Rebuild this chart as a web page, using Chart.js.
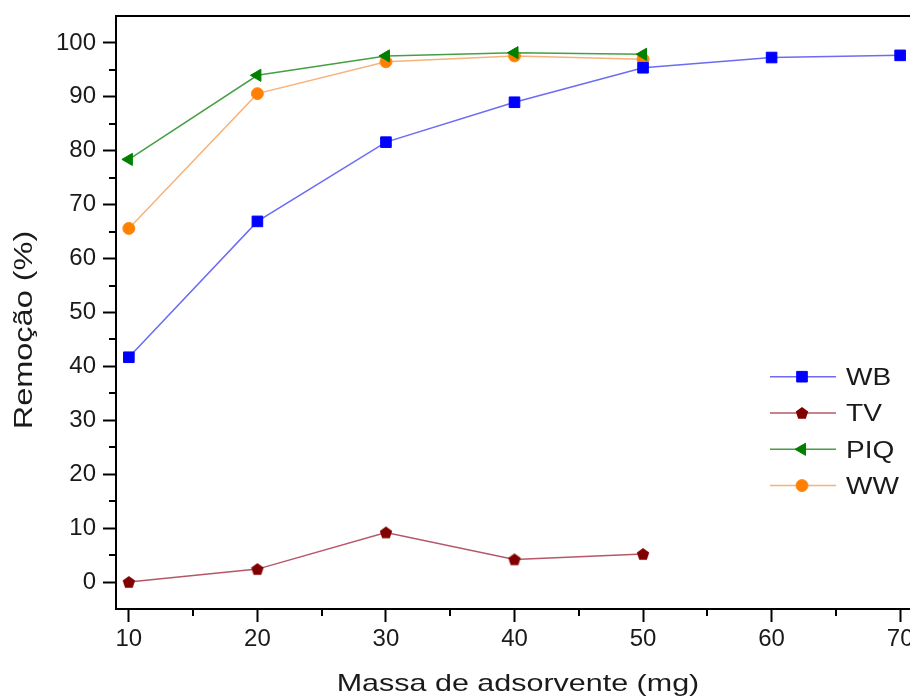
<!DOCTYPE html>
<html>
<head>
<meta charset="utf-8">
<script src="https://cdn.jsdelivr.net/npm/chart.js@4.4.1/dist/chart.umd.min.js"></script>
<style>
  html, body { margin: 0; padding: 0; background: #fff; overflow: hidden; }
  #wrap { width: 910px; height: 699px; overflow: hidden; }
  canvas { display: block; }
</style>
</head>
<body>
<div id="wrap"><canvas id="chart" width="913" height="712"></canvas></div>
<script>
// massa de adsorvente (mg)
const massValues = [10, 20, 30, 40, 50, 60, 70];
// remoção (%) por adsorvente
const wbValues = [41.7, 66.9, 81.6, 89.0, 95.4, 97.3, 97.7];
const tvValues = [0.0, 2.4, 9.2, 4.2, 5.2];
const piqValues = [78.4, 94.0, 97.6, 98.2, 97.9];
const wwValues = [65.6, 90.6, 96.5, 97.6, 97.0];

const xTicks = [10, 20, 30, 40, 50, 60, 70];
const xMinorTicks = [15, 25, 35, 45, 55, 65];
const yTicks = [0, 10, 20, 30, 40, 50, 60, 70, 80, 90, 100];
const yMinorTicks = [5, 15, 25, 35, 45, 55, 65, 75, 85, 95];

const xTitle = 'Massa de adsorvente (mg)';
const yTitle = 'Remoção (%)';

const FONT = "'Liberation Sans', Arial, sans-serif";
const TEXT = '#1a1a1a';

const toPoints = vals => vals.map((v, i) => ({ x: massValues[i], y: v }));

// pentagon marker (no built-in pointStyle for it)
function makePentagon(color, size) {
  const c = document.createElement('canvas');
  c.width = size; c.height = size;
  const g = c.getContext('2d');
  const r = size / 2 - 0.5;
  g.beginPath();
  for (let i = 0; i < 5; i++) {
    const a = -Math.PI / 2 + i * 2 * Math.PI / 5;
    const px = size / 2 + r * Math.cos(a);
    const py = size / 2 + 0.6 + r * Math.sin(a);
    if (i === 0) g.moveTo(px, py); else g.lineTo(px, py);
  }
  g.closePath();
  g.fillStyle = color;
  g.fill();
  return c;
}
const pentagon = makePentagon('#800000', 14);

// the original figure uses wide-looking lettering, so titles are stretched a bit
function wideText(ctx, text, x, y, size, sx, angle) {
  ctx.save();
  ctx.translate(x, y);
  if (angle) ctx.rotate(angle);
  ctx.scale(sx, 1);
  ctx.font = size + 'px ' + FONT;
  ctx.fillStyle = TEXT;
  ctx.textBaseline = 'alphabetic';
  ctx.fillText(text, 0, 0);
  ctx.restore();
}

// top frame line, minor ticks, axis titles
const framePlugin = {
  id: 'frame',
  afterDraw(chart) {
    const { ctx, chartArea } = chart;
    const xs = chart.scales.x, ys = chart.scales.y;
    ctx.save();
    ctx.strokeStyle = '#000';
    ctx.lineWidth = 2;
    ctx.beginPath();
    ctx.moveTo(chartArea.left - 1, chartArea.top);
    ctx.lineTo(chartArea.right, chartArea.top);
    ctx.moveTo(chartArea.right, chartArea.top);
    ctx.lineTo(chartArea.right, chartArea.bottom);
    xMinorTicks.forEach(v => {
      const px = Math.round(xs.getPixelForValue(v));
      ctx.moveTo(px, chartArea.bottom);
      ctx.lineTo(px, chartArea.bottom + 7);
    });
    yMinorTicks.forEach(v => {
      const py = Math.round(ys.getPixelForValue(v));
      ctx.moveTo(chartArea.left, py);
      ctx.lineTo(chartArea.left - 7, py);
    });
    ctx.stroke();
    ctx.restore();

    ctx.save();
    ctx.textAlign = 'center';
    wideText(ctx, xTitle, 518, 691, 24, 1.27, 0);
    wideText(ctx, yTitle, 31.5, 330, 25, 1.3, -Math.PI / 2);
    ctx.restore();
  }
};

// legend drawn inside the plot, line with marker in the middle
const legendPlugin = {
  id: 'innerLegend',
  afterDraw(chart) {
    const { ctx, chartArea } = chart;
    const x0 = chartArea.left + 654;
    const y0 = chartArea.top + 360.7;
    ctx.save();
    chart.data.datasets.forEach((ds, i) => {
      const y = y0 + i * 36.3;
      ctx.strokeStyle = ds.borderColor;
      ctx.lineWidth = ds.borderWidth;
      ctx.beginPath();
      ctx.moveTo(x0, y);
      ctx.lineTo(x0 + 66, y);
      ctx.stroke();
      ctx.fillStyle = ds.pointBackgroundColor;
      ctx.strokeStyle = ds.pointBorderColor;
      ctx.lineWidth = ds.pointBorderWidth;
      Chart.helpers.drawPoint(ctx, {
        pointStyle: ds.pointStyle,
        rotation: ds.pointRotation || 0,
        radius: ds.pointRadius,
        borderWidth: ds.pointBorderWidth
      }, x0 + 32, y);
      ctx.textAlign = 'left';
      wideText(ctx, ds.label, x0 + 76, y + 8.4, 23, 1.22, 0);
    });
    ctx.restore();
  }
};

new Chart(document.getElementById('chart'), {
  type: 'line',
  data: {
    datasets: [
      {
        label: 'WB',
        data: toPoints(wbValues),
        borderColor: '#6b6bf5',
        borderWidth: 1.5,
        pointStyle: 'rect',
        pointRadius: 7.5,
        pointBackgroundColor: '#0000ff',
        pointBorderColor: '#0000ff',
        pointBorderWidth: 1
      },
      {
        label: 'TV',
        data: toPoints(tvValues),
        borderColor: '#b5576a',
        borderWidth: 1.5,
        pointStyle: pentagon,
        pointRadius: 7,
        pointBackgroundColor: '#800000',
        pointBorderColor: '#800000',
        pointBorderWidth: 0
      },
      {
        label: 'PIQ',
        data: toPoints(piqValues),
        borderColor: '#45a045',
        borderWidth: 1.5,
        pointStyle: 'triangle',
        pointRotation: -90,
        pointRadius: 7,
        pointBackgroundColor: '#008000',
        pointBorderColor: '#008000',
        pointBorderWidth: 1
      },
      {
        label: 'WW',
        data: toPoints(wwValues),
        borderColor: '#f7b27a',
        borderWidth: 1.5,
        pointStyle: 'circle',
        pointRadius: 6,
        pointBackgroundColor: '#ff8000',
        pointBorderColor: '#ff8c1a',
        pointBorderWidth: 1
      }
    ]
  },
  options: {
    responsive: false,
    animation: false,
    devicePixelRatio: 1,
    layout: { autoPadding: false, padding: { top: 16, left: 0, right: 0, bottom: 0 } },
    plugins: {
      legend: { display: false },
      tooltip: { enabled: false }
    },
    scales: {
      x: {
        type: 'linear',
        min: 9,
        max: 71,
        afterBuildTicks: s => { s.ticks = xTicks.map(v => ({ value: v })); },
        afterFit: s => {
          s.height = 712 - 609;
          s.paddingLeft = 0; s.paddingRight = 0;
        },
        grid: { drawOnChartArea: false, drawTicks: true, tickLength: 13, tickWidth: 2, tickColor: '#000' },
        border: { display: true, color: '#000', width: 2 },
        ticks: { color: TEXT, padding: 3, maxRotation: 0, font: { family: FONT, size: 24 } },
        title: { display: false, text: xTitle }
      },
      y: {
        min: -5,
        max: 105,
        afterBuildTicks: s => { s.ticks = yTicks.map(v => ({ value: v })); },
        afterFit: s => {
          s.width = 116;
          s.paddingTop = 0; s.paddingBottom = 0;
        },
        grid: { drawOnChartArea: false, drawTicks: true, tickLength: 13, tickWidth: 2, tickColor: '#000' },
        border: { display: true, color: '#000', width: 2 },
        ticks: { color: TEXT, padding: 7, font: { family: FONT, size: 24 } },
        title: { display: false, text: yTitle }
      }
    }
  },
  plugins: [framePlugin, legendPlugin]
});
</script>
</body>
</html>
